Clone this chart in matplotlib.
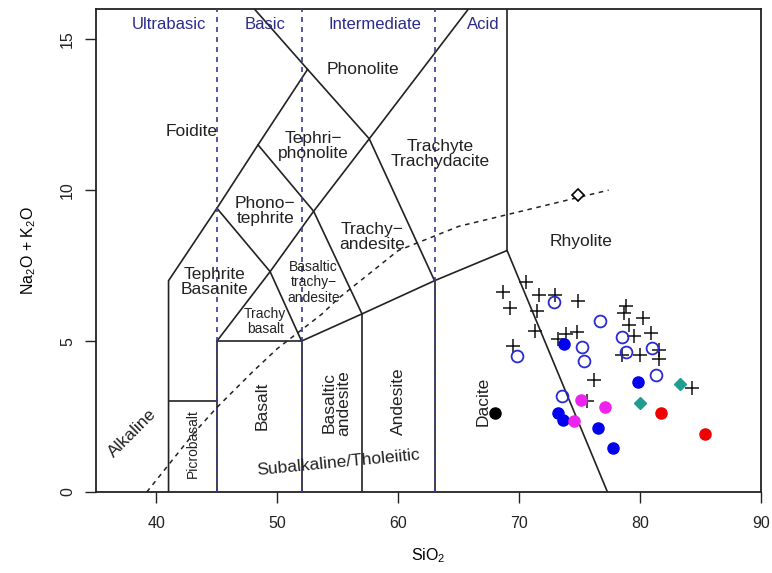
import numpy as np
import matplotlib
matplotlib.use("Agg")
import matplotlib.pyplot as plt

plt.rcParams['font.family'] = ['Liberation Sans', 'DejaVu Sans']
plt.rcParams['mathtext.default'] = 'regular'

# --- sample data (SiO2, Na2O+K2O) ---
cross_x = [68.7, 69.2, 70.6, 71.6, 73.0, 74.9, 71.5, 71.3, 73.9, 74.8, 73.2, 69.5,
           78.8, 78.7, 80.2, 79.1, 79.5, 80.9, 78.5, 80.0, 81.6, 81.6, 76.2, 84.3, 75.6]
cross_y = [6.63, 6.11, 6.97, 6.54, 6.54, 6.32, 6.01, 5.33, 5.24, 5.31, 5.06, 4.84,
           6.17, 5.93, 5.76, 5.54, 5.17, 5.26, 4.54, 4.54, 4.71, 4.40, 3.71, 3.44, 3.02]

open_x = [72.9, 76.7, 69.8, 75.2, 75.4, 78.5, 78.8, 81.0, 81.3, 73.5]
open_y = [6.31, 5.67, 4.52, 4.80, 4.35, 5.15, 4.65, 4.76, 3.86, 3.19]

blue_x = [73.7, 79.8, 73.2, 73.6, 76.5, 77.8]
blue_y = [4.90, 3.66, 2.61, 2.39, 2.13, 1.45]

magenta_x = [75.1, 77.1, 74.5]
magenta_y = [3.05, 2.83, 2.35]

teal_x = [83.3, 80.0]
teal_y = [3.58, 2.94]

red_x = [81.7, 85.4]
red_y = [2.61, 1.92]

black_x = [68.0]
black_y = [2.61]

diamond_x = [74.85]
diamond_y = [9.85]

# --- TAS field boundaries (Le Bas et al. 1986) ---
tas_lines = [
    [(41, 0), (41, 7), (45, 9.4), (48.4, 11.5), (52.5, 14), (48.1, 16)],
    [(41, 3), (45, 3)],
    [(45, 0), (45, 5), (52, 5), (52, 0)],
    [(52, 5), (57, 5.9), (63, 7), (69, 8), (77.3, 0)],
    [(57, 0), (57, 5.9)],
    [(63, 0), (63, 7)],
    [(69, 8), (69, 16)],
    [(45, 5), (49.4, 7.3), (53, 9.3), (57.6, 11.7), (65.8, 16)],
    [(52, 5), (49.4, 7.3), (45, 9.4)],
    [(57, 5.9), (53, 9.3), (48.4, 11.5)],
    [(63, 7), (57.6, 11.7), (52.5, 14)],
]

# Irvine & Baragar alkaline / subalkaline divide
ib_x = [39.2, 40, 43.2, 45, 48, 50, 53.7, 55, 60, 65, 77.4]
ib_y = [0, 0.4, 2, 2.8, 4, 4.75, 5.9, 6.4, 8, 8.8, 10]

silica_div = [45, 52, 63]
silica_names = ["Ultrabasic", "Basic", "Intermediate", "Acid"]
silica_pos = [41.0, 49.0, 58.1, 67.0]

# name, x, y, size, rotation
field_labels = [
    ("Phonolite", 57.1, 14.0, 12.5, 0),
    ("Foidite", 42.9, 11.95, 12.5, 0),
    ("Tephri\u2212\nphonolite", 53.0, 11.45, 12.5, 0),
    ("Trachyte\nTrachydacite", 63.5, 11.2, 12.5, 0),
    ("Phono\u2212\ntephrite", 49.0, 9.3, 12.5, 0),
    ("Trachy\u2212\nandesite", 57.8, 8.45, 12.5, 0),
    ("Rhyolite", 75.1, 8.3, 12.5, 0),
    ("Tephrite\nBasanite", 44.8, 6.95, 12.5, 0),
    ("Basaltic\ntrachy\u2212\nandesite", 53.0, 6.95, 10, 0),
    ("Trachy\nbasalt", 49.0, 5.65, 10, 0),
    ("Picrobasalt", 43.0, 1.6, 10, 90),
    ("Basalt", 48.7, 2.85, 12.5, 90),
    ("Basaltic\nandesite", 54.9, 2.95, 12.5, 90),
    ("Andesite", 60.0, 3.0, 12.5, 90),
    ("Dacite", 67.0, 3.0, 12.5, 90),
    ("Alkaline", 38.05, 1.95, 12.5, 45),
    ("Subalkaline/Tholeiitic", 55.0, 0.97, 12.5, 5.5),
]

fig = plt.figure(figsize=(7.72, 5.73), dpi=100)
ax = fig.add_axes([96 / 772, 81 / 573, 665 / 772, 483 / 573])

for seg in tas_lines:
    xs, ys = zip(*seg)
    ax.plot(xs, ys, color='#222222', lw=1.2, zorder=2)

for xv in silica_div:
    ax.plot([xv, xv], [0, 16], color='#3a3a9a', lw=1.2, ls=(0, (3, 3)), zorder=3)

ax.plot(ib_x, ib_y, color='#222222', lw=1.1, ls=(0, (3, 3)), zorder=3)

for name, xv in zip(silica_names, silica_pos):
    ax.text(xv, 15.47, name, color='#2b2b8c', fontsize=12, ha='center', va='center')

for name, xv, yv, fs, rot in field_labels:
    ls = 1.0 if fs > 11 else 1.15
    ax.text(xv, yv, name, fontsize=fs, rotation=rot, ha='center', va='center',
            color='#222222', linespacing=ls, zorder=4)

# samples
ax.plot(cross_x, cross_y, '+', color='#111111', ms=10, mew=1.1, zorder=5)
ax.plot(open_x, open_y, 'o', mfc='none', mec='#2a2ad0', ms=8.5, mew=1.3, zorder=5)
ax.plot(blue_x, blue_y, 'o', color='#0000ee', ms=8, zorder=5)
ax.plot(magenta_x, magenta_y, 'o', color='#ee22ee', ms=8, zorder=5)
ax.plot(teal_x, teal_y, 'D', color='#1f9e8f', ms=6.5, zorder=5)
ax.plot(red_x, red_y, 'o', color='#ee0000', ms=8, zorder=5)
ax.plot(black_x, black_y, 'o', color='black', ms=8, zorder=5)
ax.plot(diamond_x, diamond_y, 'D', mfc='white', mec='black', ms=6, mew=1.2, zorder=5)

ax.set_xlim(35, 90)
ax.set_ylim(0, 16)
ax.set_xticks([40, 50, 60, 70, 80, 90])
ax.set_yticks([0, 5, 10, 15])
ax.tick_params(direction='out', length=8, width=1, labelsize=11.5, colors='#222222')
ax.tick_params(axis='x', pad=9)
ax.tick_params(axis='y', pad=7)
for lab in ax.get_yticklabels():
    lab.set_rotation(90)
    lab.set_va('center')
for sp in ax.spines.values():
    sp.set_linewidth(1.3)
    sp.set_color('#222222')

ax.set_xlabel("SiO$_2$", fontsize=11.5, labelpad=11)
ax.set_ylabel("Na$_2$O + K$_2$O", fontsize=11.5, labelpad=16)

fig.savefig("out.png", dpi=100)
